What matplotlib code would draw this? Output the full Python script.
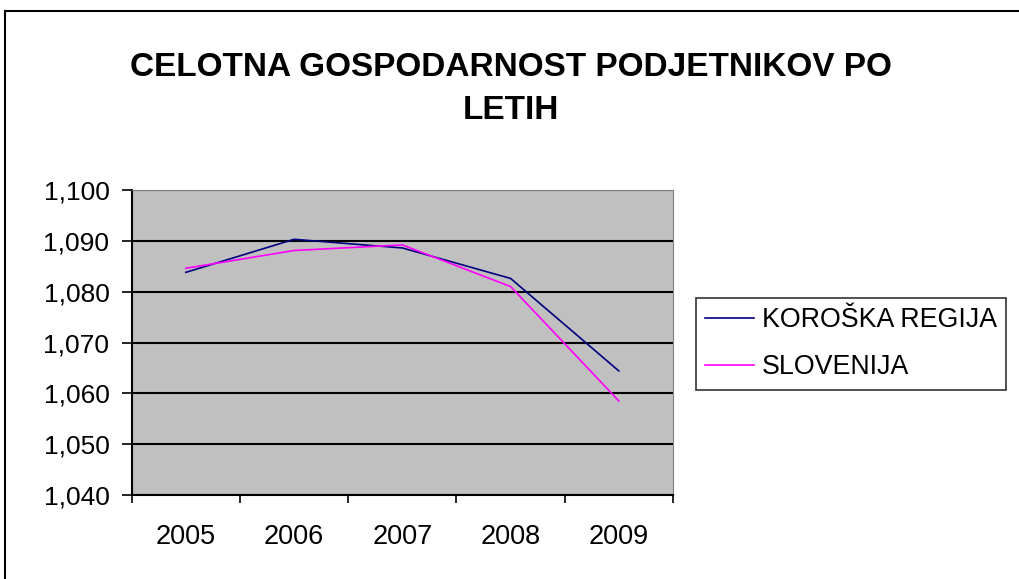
import numpy as np
import matplotlib
matplotlib.use('Agg')
import matplotlib.pyplot as plt
from matplotlib.lines import Line2D

plt.rcParams['font.family'] = ['Liberation Sans', 'DejaVu Sans']

# data
years = ['2005', '2006', '2007', '2008', '2009']
koroska = [1.0838, 1.0903, 1.0886, 1.0826, 1.0644]
slovenija = [1.0846, 1.0881, 1.0892, 1.0810, 1.0585]
y_ticks = [1.040, 1.050, 1.060, 1.070, 1.080, 1.090, 1.100]
y_labels = ['1,040', '1,050', '1,060', '1,070', '1,080', '1,090', '1,100']

fig = plt.figure(figsize=(10.19, 5.79), dpi=100)
fig.patch.set_facecolor('white')

# outer chart border (right and bottom run off the picture)
fig.add_artist(Line2D([5/1019, 5/1019], [0, 1-11/579], transform=fig.transFigure, color='black', lw=1.5))
fig.add_artist(Line2D([5/1019, 1], [1-11/579, 1-11/579], transform=fig.transFigure, color='black', lw=1.5))

ax = fig.add_axes([131.7/1019, 1-495/579, (673-131.7)/1019, (495-190)/579])
ax.set_facecolor('#C0C0C0')

x = np.arange(len(years))
ax.plot(x, koroska, color='#000080', lw=1.2, label='KOROŠKA REGIJA', zorder=3)
ax.plot(x, slovenija, color='#FF00FF', lw=1.2, label='SLOVENIJA', zorder=3)

ax.set_xlim(-0.5, len(years)-0.5)
ax.set_ylim(y_ticks[0], y_ticks[-1])

ax.set_yticks(y_ticks)
ax.set_yticklabels(y_labels)
ax.yaxis.grid(True, color='black', lw=1.5)
ax.set_axisbelow(True)

ax.set_xticks(x)
ax.set_xticklabels(years)
ax.set_xticks(np.arange(len(years)+1)-0.5, minor=True)
ax.tick_params(axis='x', which='major', length=0, pad=21, labelsize=19.5)
ax.tick_params(axis='x', which='minor', length=6, width=1.2, direction='out')
ax.tick_params(axis='y', length=7, width=1.2, direction='out', pad=9, labelsize=19)

ax.spines['left'].set_color('black')
ax.spines['left'].set_linewidth(1.5)
ax.spines['bottom'].set_color('black')
ax.spines['bottom'].set_linewidth(1.5)
ax.spines['top'].set_color('#808080')
ax.spines['right'].set_color('#808080')

fig.text(0.5015, 1-52/579, 'CELOTNA GOSPODARNOST PODJETNIKOV PO\nLETIH', ha='center', va='top',
         fontsize=24, fontweight='bold', linespacing=1.5)

leg = ax.legend(loc='upper left', bbox_to_anchor=(696/1019, 1-298/579), bbox_transform=fig.transFigure,
                fontsize=19.3, frameon=True, fancybox=False, shadow=False, borderpad=0.35,
                handlelength=1.8, handletextpad=0.3, labelspacing=0.78, borderaxespad=0)
leg.get_frame().set_edgecolor('black')
leg.get_frame().set_linewidth(1.2)

fig.savefig('out.png', dpi=100)
